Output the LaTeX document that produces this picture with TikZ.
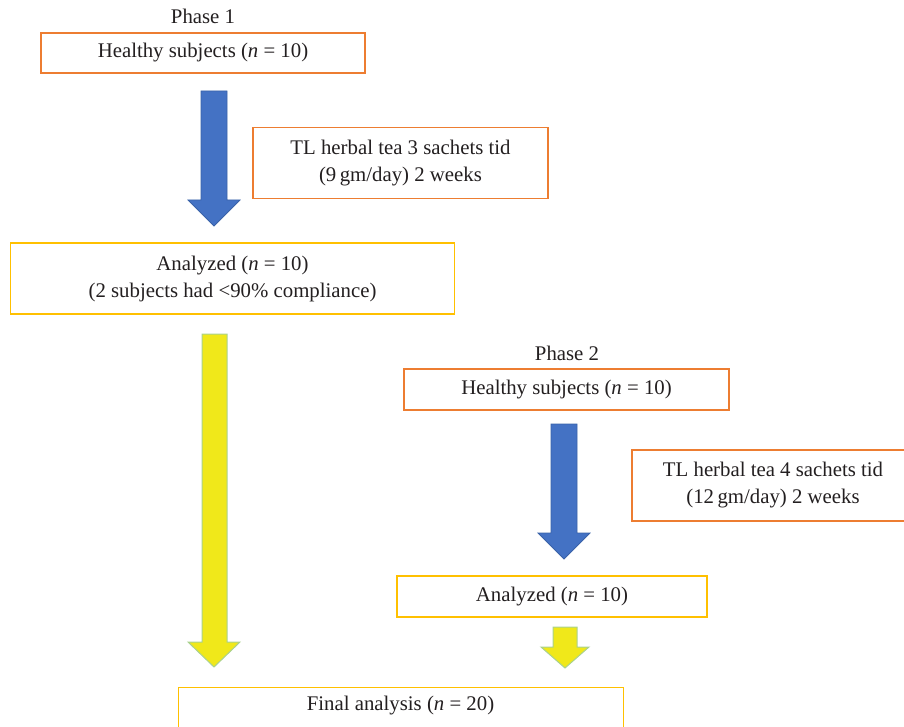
\documentclass[tikz,border=0pt]{standalone}
\usepackage{fontspec}
\setmainfont{Liberation Serif}
\definecolor{txt}{HTML}{231F20}
\definecolor{orangeb}{HTML}{ED7D31}
\definecolor{goldb}{HTML}{FFC000}
\definecolor{bluef}{HTML}{4472C4}
\definecolor{blueb}{HTML}{3A62A8}
\definecolor{yelf}{HTML}{F0E81A}
\definecolor{yelb}{HTML}{A9D18E}
\tikzset{
  obox/.style={draw=orangeb, line width=1.3pt, fill=white, inner sep=0pt, align=center, text=txt},
  ybox/.style={draw=goldb, line width=1.3pt, fill=white, inner sep=0pt, align=center, text=txt},
  lbl/.style={inner sep=0pt, text=txt},
  bluearrow/.style={fill=bluef, draw=blueb, line width=0.8pt, line join=miter},
  yelarrow/.style={fill=yelf, draw=yelb, line width=1pt, line join=miter}
}
\begin{document}
\begin{tikzpicture}[x=1pt, y=-1pt, font=\fontsize{20.8}{27}\selectfont]
\useasboundingbox (0,0) rectangle (904,727);
\clip (0,0) rectangle (904,727);
% Phase 1
\node[lbl] (p1) at (203,16) {Phase 1};
\node[obox, minimum width=324pt, minimum height=40pt] (h1) at (203,53) {Healthy subjects (\textit{n} = 10)};
\node[obox, minimum width=295pt, minimum height=71pt] (t1) at (400.5,163) {TL herbal tea 3 sachets tid\\(9\,gm/day) 2 weeks};
\node[ybox, minimum width=444pt, minimum height=71pt] (a1) at (232.5,278.5) {Analyzed (\textit{n} = 10)\\(2 subjects had <90\% compliance)};
% blue arrow 1
\draw[bluearrow] (201,91) -- (227,91) -- (227,200) -- (240,200) -- (214,226) -- (188,200) -- (201,200) -- cycle;
% yellow arrow 1
\draw[yelarrow] (202,334) -- (227,334) -- (227,642) -- (240,642) -- (214,667) -- (188,642) -- (202,642) -- cycle;
% Phase 2
\node[lbl] (p2) at (567,353) {Phase 2};
\node[obox, minimum width=325pt, minimum height=41pt] (h2) at (566.5,389.5) {Healthy subjects (\textit{n} = 10)};
\node[obox, minimum width=282pt, minimum height=71pt] (t2) at (773,485.5) {TL herbal tea 4 sachets tid\\(12\,gm/day) 2 weeks};
\node[ybox, minimum width=310pt, minimum height=41pt] (a2) at (552,596.5) {Analyzed (\textit{n} = 10)};
% blue arrow 2
\draw[bluearrow] (551,424) -- (577,424) -- (577,533) -- (590,533) -- (564,559) -- (538,533) -- (551,533) -- cycle;
% small yellow arrow
\draw[yelarrow] (553,627) -- (577,627) -- (577,647) -- (589,647) -- (565,668) -- (541,647) -- (553,647) -- cycle;
% final
\node[ybox, minimum width=445pt, minimum height=60pt, anchor=north west] (f) at (178,687) {};
\node[lbl] (ft) at (400.5,706) {Final analysis (\textit{n} = 20)};
\end{tikzpicture}
\end{document}
